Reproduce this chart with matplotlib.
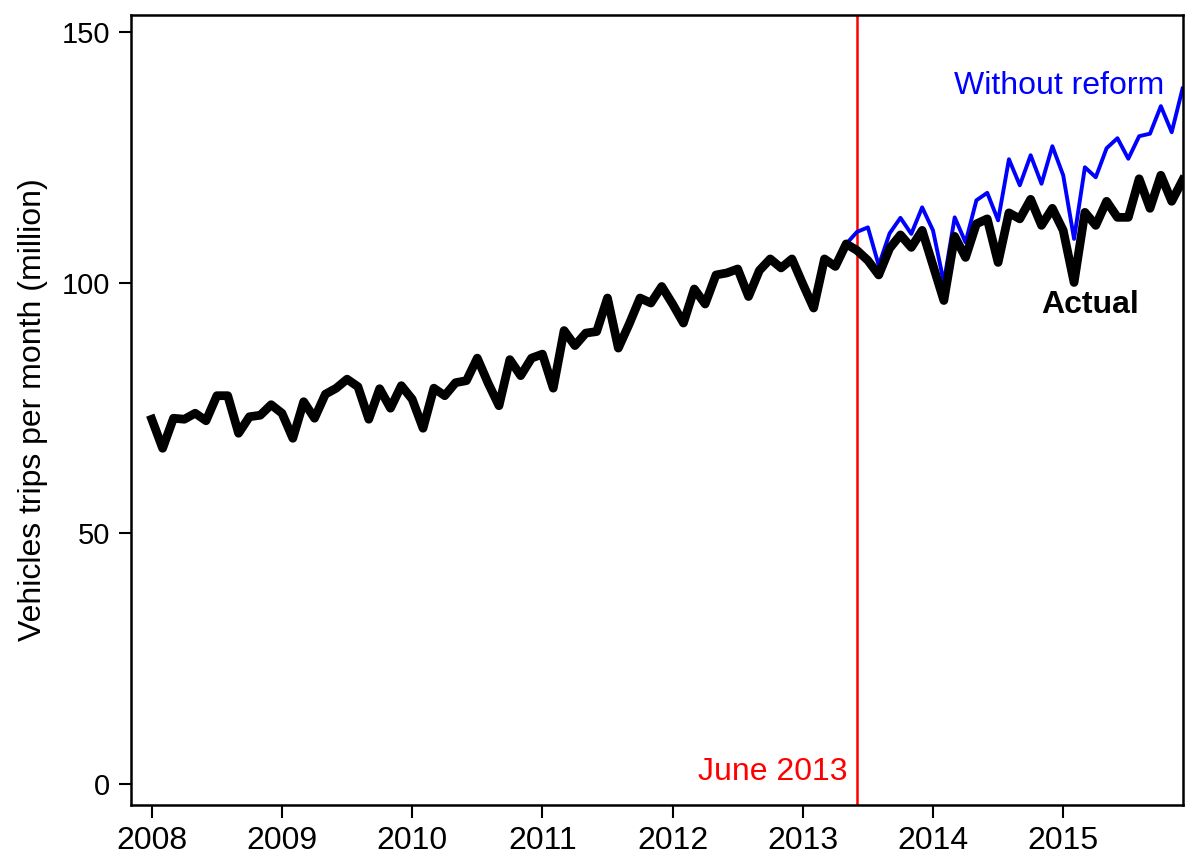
import numpy as np
import matplotlib
matplotlib.use("Agg")
from matplotlib import pyplot as plt

# monthly vehicle trips (million), Jan 2008 .. Dec 2015
actual = [72.8, 67.0, 73.0, 72.8, 74.0, 72.5, 77.5, 77.5, 70.0, 73.3, 73.6, 75.7,
          74.0, 69.0, 76.3, 73.0, 77.8, 79.0, 80.8, 79.3, 72.8, 78.9, 75.0, 79.5,
          76.8, 71.0, 79.0, 77.5, 80.1, 80.5, 85.0, 80.0, 75.5, 84.7, 81.5, 85.0,
          85.8, 79.0, 90.5, 87.5, 90.0, 90.3, 97.0, 87.0, 91.8, 97.0, 96.0, 99.3,
          95.8, 92.0, 98.8, 95.8, 101.6, 102.0, 102.8, 97.3, 102.5, 104.8, 103.0, 104.8,
          99.8, 95.0, 104.8, 103.3, 107.8, 106.5, 104.5, 101.6, 106.9, 109.6, 107.1, 110.5,
          103.5, 96.5, 109.3, 105.1, 111.8, 112.8, 104.1, 114.0, 112.8, 116.7, 111.5, 114.9,
          110.5, 100.1, 114.1, 111.5, 116.3, 113.1, 113.1, 120.8, 114.9, 121.5, 116.3, 120.5]

# counterfactual, May 2013 .. Dec 2015
no_reform = [107.8, 110.2, 111.1, 103.5, 109.9, 113.0, 109.8, 115.1,
             110.5, 100.1, 113.1, 108.1, 116.5, 118.0, 112.5, 124.7, 119.5, 125.5, 119.8, 127.3,
             121.5, 108.8, 123.1, 121.1, 126.9, 128.9, 124.8, 129.3, 129.8, 135.3, 130.1, 138.8]

start_year = 2008
reform_date = 2013 + 5/12   # June 2013
year_ticks = list(range(2008, 2016))
y_ticks = [0, 50, 100, 150]

t_actual = start_year + np.arange(len(actual)) / 12
t_cf = t_actual[-len(no_reform):]

plt.rcParams['font.family'] = ['Liberation Sans', 'DejaVu Sans']
narrow = ['Liberation Sans Narrow', 'Liberation Sans', 'DejaVu Sans']

fig = plt.figure(figsize=(11.85, 8.55), dpi=100)
ax = fig.add_axes([0.1105, 0.0585, 0.8878, 0.924])

ax.axvline(reform_date, color='red', lw=1.8, zorder=1)
ax.plot(t_cf, no_reform, color='blue', lw=2.8, zorder=2)
ax.plot(t_actual, actual, color='black', lw=6.3, solid_joinstyle='round', zorder=3)

ax.set_xlim(2007.84, 2015.92)
ax.set_ylim(-4.2, 153.5)
ax.set_xticks(year_ticks)
ax.set_yticks(y_ticks)
ax.tick_params(direction='out', length=9, width=1.5, labelsize=21, pad=6)
ax.tick_params(axis='x', labelsize=23)
for s in ax.spines.values():
    s.set_linewidth(1.8)

ax.set_ylabel('Vehicles trips per month (million)', fontsize=23,
              family=narrow, labelpad=10)

ax.text(2013.34, 2.4, 'June 2013', color='red', fontsize=23,
        family=narrow, ha='right', va='center')
ax.text(2015.775, 139.4, 'Without reform', color='blue', fontsize=23,
        ha='right', va='center')
ax.text(2015.58, 95.6, 'Actual', color='black', fontsize=23, fontweight='bold',
        ha='right', va='center')

fig.savefig('out.png', dpi=100)
